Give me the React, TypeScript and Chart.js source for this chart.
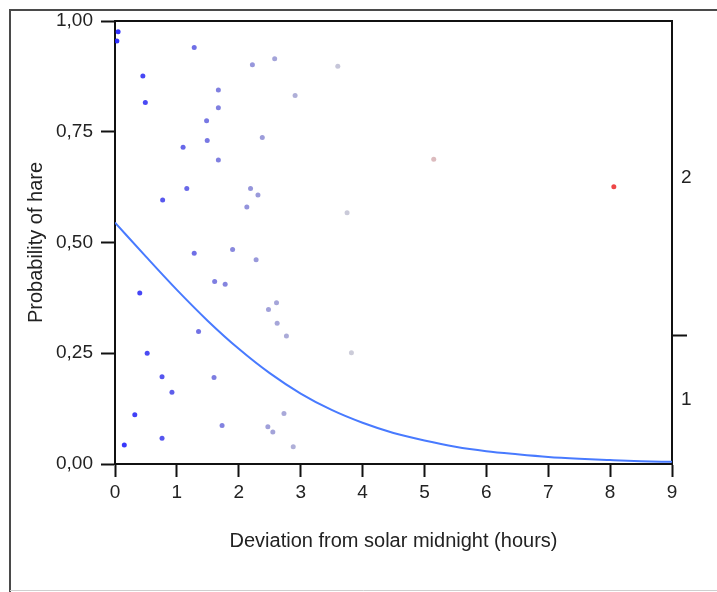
import React, { useEffect, useRef } from "react";
import { Chart, registerables } from "chart.js";

Chart.register(...registerables);

// Observed points: deviation from solar midnight (hours) and probability of hare
const hareX = [0.05, 0.03, 1.28, 2.22, 2.58, 3.6, 0.45, 0.49, 1.67, 1.67, 2.91, 1.48, 1.49, 2.38, 1.1, 1.67, 1.16, 2.19, 2.31, 0.77, 2.13, 3.75, 1.28, 1.9, 2.28, 1.61, 1.78, 0.4, 5.15, 8.06, 2.61, 2.48, 2.62, 2.77, 1.35, 0.52, 3.82, 0.76, 1.6, 0.92, 0.32, 2.73, 1.73, 2.47, 2.55, 0.76, 0.15, 2.88];
const hareY = [0.976, 0.955, 0.94, 0.901, 0.915, 0.898, 0.876, 0.816, 0.844, 0.804, 0.832, 0.775, 0.73, 0.737, 0.715, 0.686, 0.622, 0.622, 0.607, 0.596, 0.58, 0.567, 0.476, 0.484, 0.461, 0.412, 0.406, 0.386, 0.688, 0.626, 0.364, 0.349, 0.318, 0.289, 0.299, 0.25, 0.251, 0.197, 0.195, 0.162, 0.111, 0.114, 0.087, 0.084, 0.072, 0.058, 0.043, 0.039];

// Fitted curve
const curveX = [0, 0.5, 1, 1.5, 2, 2.5, 3, 3.5, 4, 4.5, 5, 5.5, 6, 6.5, 7, 7.5, 8, 8.5, 9];
const curveY = [0.545, 0.468, 0.393, 0.323, 0.26, 0.205, 0.159, 0.122, 0.093, 0.07, 0.053, 0.039, 0.029, 0.022, 0.016, 0.012, 0.009, 0.0064, 0.0048];

// Axis ticks
const xTicks = [0, 1, 2, 3, 4, 5, 6, 7, 8, 9];
const yTicks = [0, 0.25, 0.5, 0.75, 1];

// Right-hand category axis
const rightBoundary = 0.291;
const rightLabelValues = [0.1455, 0.6455];
const rightLabels = ["1", "2"];

const FONT = "'Liberation Sans', Arial, Helvetica, sans-serif";
const W = 717;
const H = 592;

function pointColor(x: number): string {
  const mid = 4.3;
  let r: number, g: number, b: number, d: number;
  if (x < mid) {
    d = (mid - x) / mid;
    r = 128 - 98 * d;
    g = 128 - 98 * d;
    b = 140 + 115 * d;
  } else {
    d = Math.min(1, (x - mid) / (9 - mid));
    r = 150 + 105 * d;
    g = 110 - 110 * d;
    b = 120 - 120 * d;
  }
  const a = 0.3 + 0.62 * d;
  return `rgba(${Math.round(r)},${Math.round(g)},${Math.round(b)},${a.toFixed(3)})`;
}

const framePlugin = {
  id: "frames",
  beforeDraw(chart: any) {
    const ctx = chart.ctx;
    ctx.save();
    ctx.fillStyle = "#ffffff";
    ctx.fillRect(0, 0, W, H);
    ctx.strokeStyle = "#4a4a4a";
    ctx.lineWidth = 2;
    ctx.beginPath();
    ctx.moveTo(10, H);
    ctx.lineTo(10, 10);
    ctx.lineTo(W, 10);
    ctx.stroke();
    ctx.strokeStyle = "#cfcfcf";
    ctx.lineWidth = 1;
    ctx.beginPath();
    ctx.moveTo(10, H - 1.5);
    ctx.lineTo(W, H - 1.5);
    ctx.stroke();
    ctx.restore();
  },
  afterDraw(chart: any) {
    const { ctx, chartArea } = chart;
    ctx.save();
    ctx.strokeStyle = "#111";
    ctx.lineWidth = 2;
    ctx.beginPath();
    ctx.moveTo(chartArea.left - 1, chartArea.top);
    ctx.lineTo(chartArea.right + 1, chartArea.top);
    ctx.stroke();
    ctx.restore();
  },
};

export default function App() {
  const ref = useRef<HTMLCanvasElement>(null);

  useEffect(() => {
    if (!ref.current) return;
    const points = hareX.map((x, i) => ({ x, y: hareY[i] }));
    const curve = curveX.map((x, i) => ({ x, y: curveY[i] }));
    const chart = new Chart(ref.current, {
      type: "scatter",
      data: {
        datasets: [
          {
            type: "line",
            data: curve,
            borderColor: "rgb(72,122,255)",
            borderWidth: 2,
            pointRadius: 0,
            cubicInterpolationMode: "monotone",
            fill: false,
            order: 2,
          } as any,
          {
            type: "scatter",
            data: points,
            pointRadius: 2.5,
            pointBorderWidth: 0,
            pointBackgroundColor: hareX.map(pointColor),
            pointBorderColor: "rgba(0,0,0,0)",
            order: 1,
          } as any,
        ],
      },
      plugins: [framePlugin],
      options: {
        responsive: false,
        animation: false,
        devicePixelRatio: 1,
        layout: { padding: { top: 21, left: 0, right: 0, bottom: 0 } },
        plugins: {
          legend: { display: false },
          tooltip: { enabled: false },
        },
        scales: {
          x: {
            type: "linear",
            position: "bottom",
            min: 0,
            max: 9,
            afterBuildTicks: (s: any) => {
              s.ticks = xTicks.map((v) => ({ value: v }));
            },
            afterFit: (s: any) => {
              s.height = 128;
            },
            grid: {
              drawOnChartArea: false,
              drawTicks: true,
              tickLength: 13,
              tickWidth: 2,
              tickColor: "#111",
            },
            border: { display: true, color: "#111", width: 2 },
            ticks: {
              padding: 4,
              color: "#222",
              font: { family: FONT, size: 19 },
              maxRotation: 0,
              callback: (v: any) => String(v),
            },
            title: {
              display: true,
              text: "Deviation from solar midnight (hours)",
              color: "#222",
              font: { family: FONT, size: 20 },
              padding: { top: 0, bottom: 38.5 },
            },
          },
          y: {
            type: "linear",
            position: "left",
            min: 0,
            max: 1,
            afterBuildTicks: (s: any) => {
              s.ticks = yTicks.map((v) => ({ value: v }));
            },
            afterFit: (s: any) => {
              s.width = 115;
            },
            grid: {
              drawOnChartArea: false,
              drawTicks: true,
              tickLength: 14,
              tickWidth: 2,
              tickColor: "#111",
            },
            border: { display: true, color: "#111", width: 2 },
            ticks: {
              padding: 8,
              color: "#222",
              font: { family: FONT, size: 19 },
              callback: (v: any) => Number(v).toFixed(2).replace(".", ","),
            },
            title: {
              display: true,
              text: "Probability of hare",
              color: "#222",
              font: { family: FONT, size: 20 },
              padding: { top: 24.5, bottom: 0 },
            },
          },
          y2: {
            type: "linear",
            position: "right",
            min: 0,
            max: 1,
            afterBuildTicks: (s: any) => {
              s.ticks = [
                { value: rightLabelValues[0] },
                { value: rightBoundary },
                { value: rightLabelValues[1] },
              ];
            },
            afterFit: (s: any) => {
              s.width = 45;
            },
            grid: {
              drawOnChartArea: false,
              drawTicks: true,
              tickLength: 15,
              tickWidth: 2,
              tickColor: (c: any) =>
                c.tick && c.tick.value === rightBoundary ? "#111" : "rgba(0,0,0,0)",
            },
            border: { display: true, color: "#111", width: 2 },
            ticks: {
              padding: -6,
              color: "#222",
              font: { family: FONT, size: 19 },
              callback: (v: any) => {
                const i = rightLabelValues.indexOf(Number(v));
                return i >= 0 ? rightLabels[i] : "";
              },
            },
          },
        },
      } as any,
    });
    return () => chart.destroy();
  }, []);

  return (
    <canvas
      ref={ref}
      width={W}
      height={H}
      style={{ display: "block", position: "fixed", left: 0, top: 0 }}
    />
  );
}
